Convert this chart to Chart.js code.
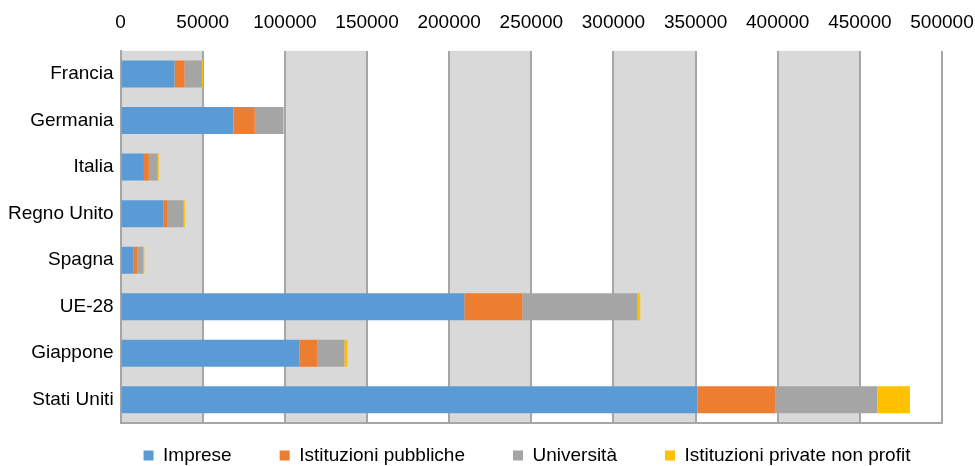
<!DOCTYPE html>
<html>
<head>
<meta charset="utf-8">
<script src="https://cdn.jsdelivr.net/npm/chart.js@4/dist/chart.umd.min.js"></script>
<style>
  html, body { margin: 0; padding: 0; background: #fff; }
  #wrap { width: 975px; height: 466px; }
</style>
</head>
<body>
<div id="wrap"><canvas id="rdChart"></canvas></div>
<script>
// paesi / aree
const paesi = ['Francia', 'Germania', 'Italia', 'Regno Unito', 'Spagna', 'UE-28', 'Giappone', 'Stati Uniti'];

// spesa R&S per settore
const imprese     = [32800, 68700, 14200, 26200, 7900, 209200, 108900, 351000];
const pubbliche   = [6100, 13000, 3000, 2500, 2200, 35300, 10900, 47400];
const universita  = [10600, 17400, 5400, 9600, 3700, 70000, 16400, 62100];
const nonProfit   = [600, 300, 600, 800, 600, 1800, 1900, 20000];

const xTicksMax = 500000;
const xTicksStep = 50000;

const FONT = "'Liberation Sans', Arial, sans-serif";

// fasce grigie alternate dietro le barre
const bandsPlugin = {
    id: 'bands',
    beforeDraw(chart) {
        const { ctx, chartArea, scales } = chart;
        const x = scales.x;
        ctx.save();
        ctx.fillStyle = '#d9d9d9';
        for (let v = 0; v < xTicksMax; v += xTicksStep * 2) {
            const x0 = x.getPixelForValue(v);
            const x1 = x.getPixelForValue(v + xTicksStep);
            ctx.fillRect(x0, chartArea.top, x1 - x0, chartArea.bottom - chartArea.top);
        }
        ctx.restore();
    }
};

// legenda: piu' vicina al grafico e spostata a destra come nell'originale
const legendShift = {
    id: 'legendShift',
    afterLayout(chart) {
        const lg = chart.legend;
        if (!lg) return;
        lg.top -= 25;
        lg.bottom -= 25;
        lg.left += 39;
        lg.right += 39;
    }
};

const bottomLine = {
    id: 'bottomLine',
    afterDraw(chart) {
        const { ctx, chartArea } = chart;
        ctx.save();
        ctx.strokeStyle = '#a6a6a6';
        ctx.lineWidth = 2;
        ctx.beginPath();
        ctx.moveTo(chartArea.left, chartArea.bottom);
        ctx.lineTo(chartArea.right + 1, chartArea.bottom);
        ctx.stroke();
        ctx.restore();
    }
};

const mkSet = (label, data, color) => ({
    label: label,
    data: data,
    backgroundColor: color,
    borderWidth: 0,
    barPercentage: 0.58,
    categoryPercentage: 1
});

const ctx = document.getElementById('rdChart').getContext('2d');
const myChart = new Chart(ctx, {
    type: 'bar',
    data: {
        labels: paesi,
        datasets: [
            mkSet('Imprese', imprese, '#5b9bd5'),
            mkSet('Istituzioni pubbliche', pubbliche, '#ed7d31'),
            mkSet('Università', universita, '#a5a5a5'),
            mkSet('Istituzioni private non profit', nonProfit, '#ffc000')
        ]
    },
    options: {
        indexAxis: 'y',
        responsive: true,
        maintainAspectRatio: false,
        animation: false,
        layout: { padding: { left: 1, right: 0, top: -6, bottom: -34 } },
        plugins: {
            legend: {
                position: 'bottom',
                labels: {
                    boxWidth: 10,
                    boxHeight: 10,
                    padding: 48,
                    color: '#000',
                    font: { family: FONT, size: 19 }
                }
            },
            tooltip: { enabled: false }
        },
        scales: {
            x: {
                position: 'top',
                stacked: true,
                min: 0,
                max: xTicksMax,
                afterFit: (scale) => { scale.paddingRight = 33; },
                ticks: {
                    stepSize: xTicksStep,
                    maxRotation: 0,
                    minRotation: 0,
                    autoSkip: false,
                    color: '#000',
                    padding: 17,
                    font: { family: FONT, size: 19 },
                    callback: (v) => String(v)
                },
                grid: {
                    color: '#a6a6a6',
                    lineWidth: 2,
                    drawTicks: false
                },
                border: { display: false }
            },
            y: {
                stacked: true,
                ticks: {
                    color: '#000',
                    padding: 7,
                    font: { family: FONT, size: 19 }
                },
                grid: { display: false, drawTicks: false },
                border: { display: true, color: '#a6a6a6', width: 2 }
            }
        }
    },
    plugins: [bandsPlugin, legendShift, bottomLine]
});
</script>
</body>
</html>
